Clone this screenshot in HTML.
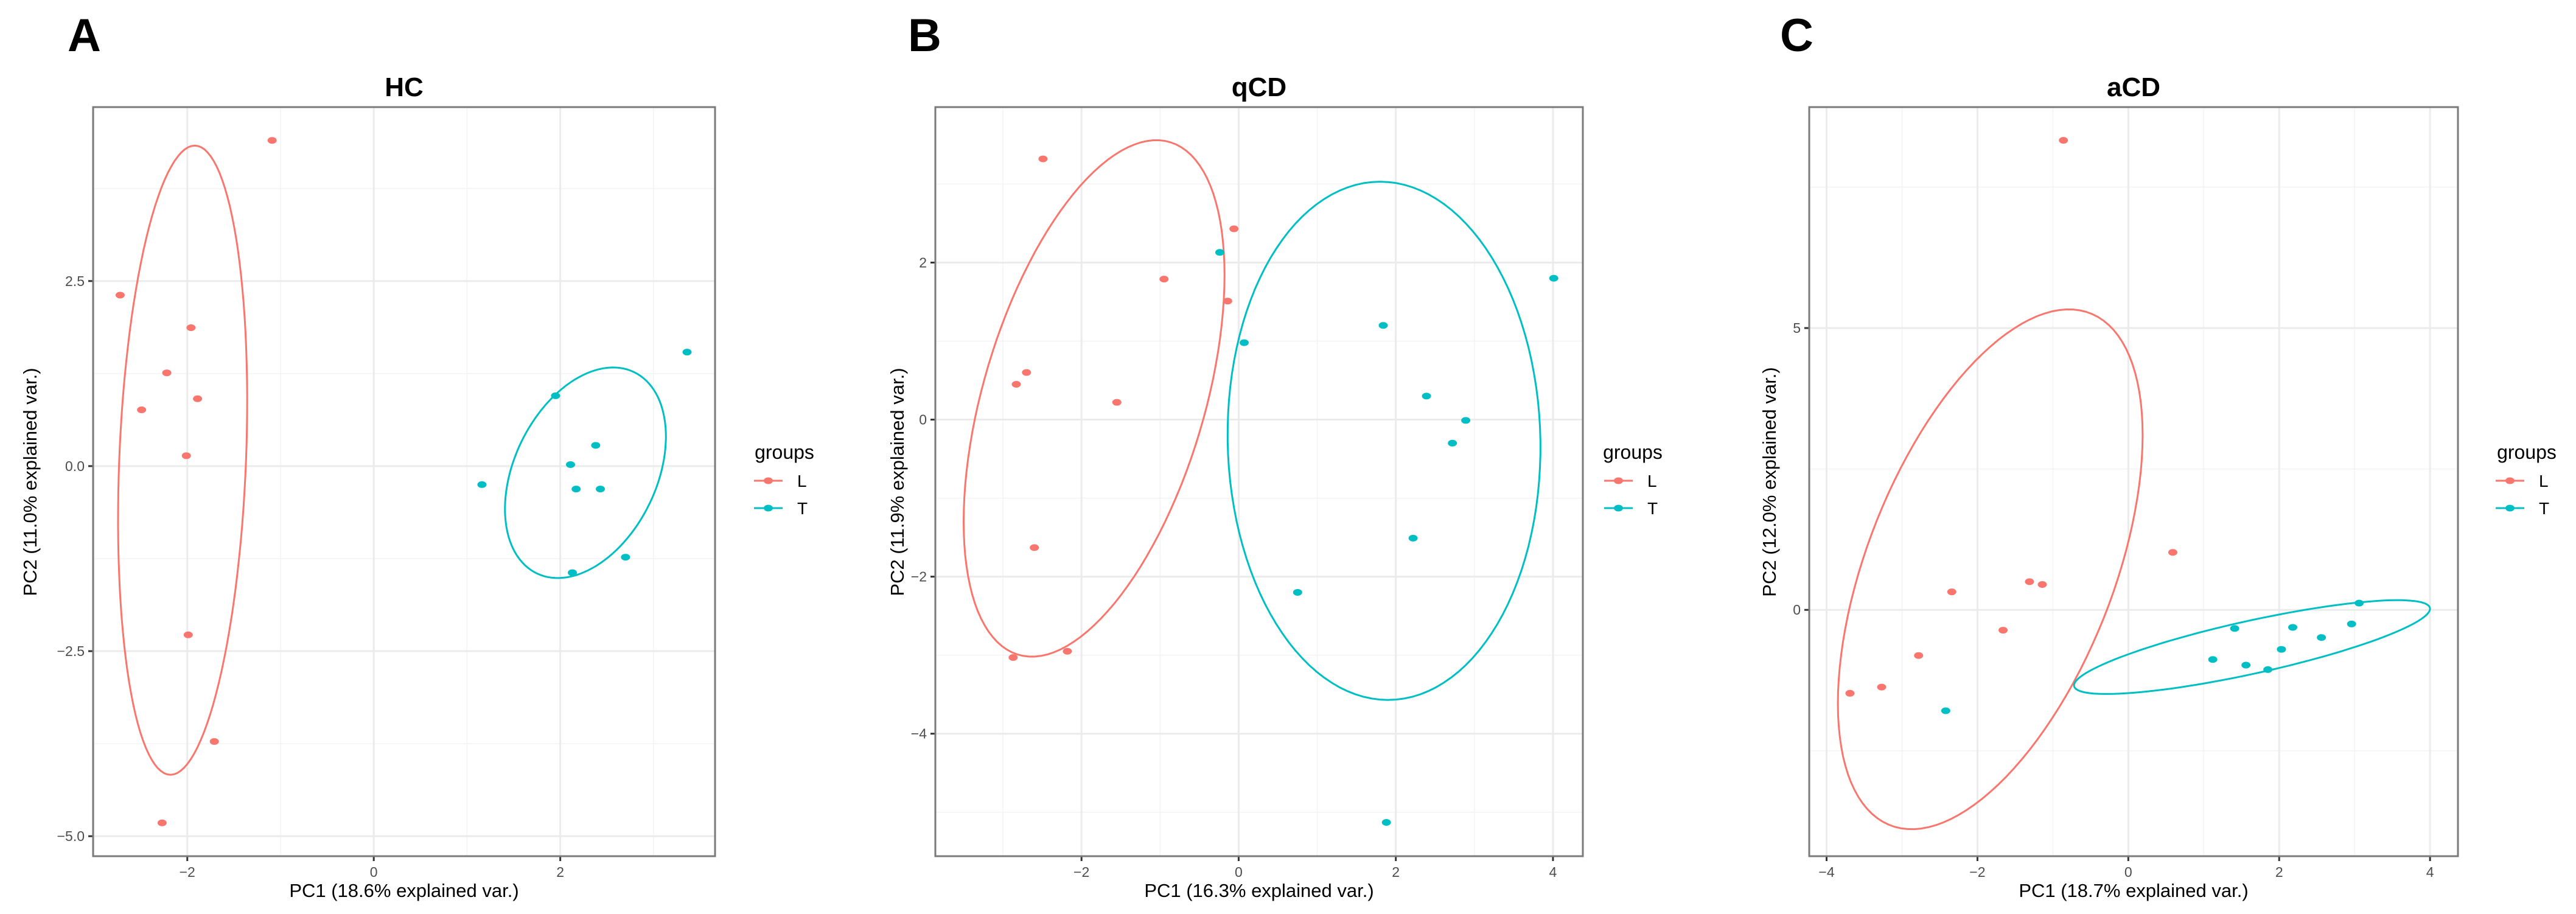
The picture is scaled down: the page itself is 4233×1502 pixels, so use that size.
<!DOCTYPE html>
<html><head><meta charset="utf-8"><style>
html,body{margin:0;padding:0;background:#fff;}
svg{display:block;font-family:"Liberation Sans",Arial,sans-serif;}
</style></head><body>
<svg id="fig" width="4233" height="1502" viewBox="0 0 4233 1502" xmlns="http://www.w3.org/2000/svg"></svg>
<script>
// ---- Panel A (HC) data ----
const hcLx = [-1.09,-2.72,-1.96,-2.22,-1.89,-2.49,-2.01,-1.99,-1.71,-2.27];
const hcLy = [4.40,2.31,1.87,1.26,0.91,0.76,0.14,-2.28,-3.72,-4.82];
const hcTx = [3.36,1.95,2.38,2.11,2.17,2.43,1.16,2.70,2.13];
const hcTy = [1.54,0.95,0.28,0.02,-0.31,-0.31,-0.25,-1.23,-1.44];
const hcEllL = [-2.05,0.08,0.68,0.0,0.13,4.25];
const hcEllT = [2.27,-0.09,0.85,0.25,0.15,1.40];
const hcXTicks = [-2,0,2];
const hcYTicks = [-5,-2.5,0,2.5];
const hcYTickLabels = ["\u22125.0","\u22122.5","0.0","2.5"];
// ---- Panel B (qCD) data ----
const qLx = [-2.49,-0.06,-0.95,-0.14,-2.70,-2.83,-1.55,-2.60,-2.87,-2.18];
const qLy = [3.32,2.43,1.79,1.51,0.60,0.45,0.22,-1.63,-3.03,-2.95];
const qTx = [-0.24,4.01,1.84,0.07,2.39,2.89,2.72,2.22,0.75,1.88];
const qTy = [2.13,1.80,1.20,0.98,0.30,-0.01,-0.30,-1.51,-2.20,-5.13];
const qEllL = [-1.84,0.27,1.66,1.57,0.0,2.89];
const qEllT = [1.85,-0.27,1.99,0.0,-0.05,3.30];
const qXTicks = [-2,0,2,4];
const qYTicks = [-4,-2,0,2];
const qYTickLabels = ["\u22124","\u22122","0","2"];
// ---- Panel C (aCD) data ----
const aLx = [-0.86,0.59,-1.31,-1.14,-2.34,-1.66,-2.78,-3.27,-3.69];
const aLy = [8.33,1.02,0.50,0.45,0.32,-0.36,-0.81,-1.37,-1.48];
const aTx = [3.06,2.96,1.41,2.18,2.56,2.03,1.12,1.56,1.85,-2.42];
const aTy = [0.12,-0.25,-0.33,-0.31,-0.49,-0.70,-0.88,-0.98,-1.06,-1.79];
const aEllL = [-1.83,0.72,2.02,2.38,0.0,3.95];
const aEllT = [1.64,-0.66,2.36,0.68,0.0,0.48];
const aXTicks = [-4,-2,0,2,4];
const aYTicks = [0,5];
const aYTickLabels = ["0","5"];

const NS="http://www.w3.org/2000/svg";
const svg=document.getElementById('fig');
const COL_L="#F8766D", COL_T="#00BFC4";
function mk(tag,attrs,parent){const e=document.createElementNS(NS,tag);for(const k in attrs)e.setAttribute(k,attrs[k]);(parent||svg).appendChild(e);return e;}
function txt(s,attrs,parent){const e=mk('text',attrs,parent);e.textContent=s;return e;}

const panels=[
 {key:'hc',letter:'A',title:'HC',L:[153,1175],xd:[-3.01,3.66],yd:[4.85,-5.27],
  xt:hcXTicks,yt:hcYTicks,ytl:hcYTickLabels,xm:[-3,-1,1,3],ym:[-3.75,-1.25,1.25,3.75],
  Lx:hcLx,Ly:hcLy,Tx:hcTx,Ty:hcTy,eL:hcEllL,eT:hcEllT,
  xlab:'PC1 (18.6% explained var.)',ylab:'PC2 (11.0% explained var.)',
  letterX:111,ytitleX:49,leg:[1239,1289,1310]},
 {key:'qcd',letter:'B',title:'qCD',L:[1537,2601],xd:[-3.86,4.38],yd:[3.98,-5.56],
  xt:qXTicks,yt:qYTicks,ytl:qYTickLabels,xm:[-3,-1,1,3],ym:[-5,-3,-1,1,3],
  Lx:qLx,Ly:qLy,Tx:qTx,Ty:qTy,eL:qEllL,eT:qEllT,
  xlab:'PC1 (16.3% explained var.)',ylab:'PC2 (11.9% explained var.)',
  letterX:1492,ytitleX:1474,leg:[2636,2683,2704]},
 {key:'acd',letter:'C',title:'aCD',L:[2973,4039],xd:[-4.23,4.37],yd:[8.92,-4.37],
  xt:aXTicks,yt:aYTicks,ytl:aYTickLabels,xm:[-3,-1,1,3],ym:[-2.5,2.5,7.5],
  Lx:aLx,Ly:aLy,Tx:aTx,Ty:aTy,eL:aEllL,eT:aEllT,
  xlab:'PC1 (18.7% explained var.)',ylab:'PC2 (12.0% explained var.)',
  letterX:2925,ytitleX:2907,leg:[4101,4152,4174]}
];
const TOP=176,BOT=1407;

panels.forEach(p=>{
  const g=mk('g',{});
  
  
  const x=v=>p.L[0]+(v-p.xd[0])/(p.xd[1]-p.xd[0])*(p.L[1]-p.L[0]);
  const y=v=>TOP+(v-p.yd[0])/(p.yd[1]-p.yd[0])*(BOT-TOP);
  const cx=(p.L[0]+p.L[1])/2;
  const lt=txt(p.letter,{x:p.letterX,y:84,'font-size':76,'font-weight':'bold',fill:'#000'},g);
  
  
  const tt=txt(p.title,{x:cx,y:158,'font-size':44,'font-weight':'bold','text-anchor':'middle',fill:'#000'},g);
  
  
  p.xm.forEach(v=>{const l=mk('line',{x1:x(v),x2:x(v),y1:TOP,y2:BOT,stroke:'#f3f3f3','stroke-width':1.5},g);});
  p.ym.forEach(v=>{const l=mk('line',{x1:p.L[0],x2:p.L[1],y1:y(v),y2:y(v),stroke:'#f3f3f3','stroke-width':1.5},g);});
  p.xt.forEach(v=>{const l=mk('line',{x1:x(v),x2:x(v),y1:TOP,y2:BOT,stroke:'#ebebeb','stroke-width':3},g);});
  p.yt.forEach(v=>{const l=mk('line',{x1:p.L[0],x2:p.L[1],y1:y(v),y2:y(v),stroke:'#ebebeb','stroke-width':3},g);});
  p.xt.forEach(v=>{
    const t=mk('line',{x1:x(v),x2:x(v),y1:BOT,y2:BOT+8,stroke:'#333','stroke-width':3},g);
    
    const s=txt(v<0?'\u2212'+(-v):String(v),{x:x(v),y:BOT+34,'font-size':23,'text-anchor':'middle',fill:'#4d4d4d'},g);
    
  });
  p.yt.forEach((v,i)=>{
    const t=mk('line',{x1:p.L[0]-8,x2:p.L[0],y1:y(v),y2:y(v),stroke:'#333','stroke-width':3},g);
    
    const s=txt(p.ytl[i],{x:p.L[0]-14,y:y(v)+8,'font-size':23,'text-anchor':'end',fill:'#4d4d4d'},g);
    
  });
  [[p.eL,COL_L,'l'],[p.eT,COL_T,'t']].forEach(([e,c,n])=>{
    let d='';
    for(let i=0;i<=120;i++){const a=i/120*2*Math.PI;
      const px=x(e[0]+e[2]*Math.cos(a)+e[4]*Math.sin(a));
      const py=y(e[1]+e[3]*Math.cos(a)+e[5]*Math.sin(a));
      d+=(i?'L':'M')+px.toFixed(1)+','+py.toFixed(1);}
    const el=mk('path',{d:d+'Z',fill:'none',stroke:c,'stroke-width':3},g);
    
  });
  p.Lx.forEach((v,i)=>{const c=mk('ellipse',{cx:x(v),cy:y(p.Ly[i]),rx:7.5,ry:5.5,fill:COL_L},g);});
  p.Tx.forEach((v,i)=>{const c=mk('ellipse',{cx:x(v),cy:y(p.Ty[i]),rx:7.5,ry:5.5,fill:COL_T},g);});
  const fr=mk('rect',{x:p.L[0],y:TOP,width:p.L[1]-p.L[0],height:BOT-TOP,fill:'none',stroke:'#7a7a7a','stroke-width':3},g);
  
  const xl=txt(p.xlab,{x:cx,y:1474,'font-size':31,'text-anchor':'middle',fill:'#000'},g);
  
  const yl=txt(p.ylab,{x:0,y:0,'font-size':31,'text-anchor':'middle',fill:'#000',transform:'translate('+(p.ytitleX+11)+',792) rotate(-90)'},g);
  
  const lg=mk('g',{},g);
  
  const gt=txt('groups',{x:p.leg[1],y:754,'font-size':32,'text-anchor':'middle',fill:'#000'},lg);
  
  [['L',COL_L,790],['T',COL_T,835]].forEach(([lab,c,yy])=>{
    const en=mk('g',{},lg);
    
    mk('line',{x1:p.leg[0],x2:p.leg[0]+47,y1:yy,y2:yy,stroke:c,'stroke-width':3},en);
    mk('ellipse',{cx:p.leg[0]+23.5,cy:yy,rx:7.5,ry:5.5,fill:c},en);
    txt(lab,{x:p.leg[0]+71,y:yy+10,'font-size':28,fill:'#000'},en);
  });
});
</script>
</body></html>
